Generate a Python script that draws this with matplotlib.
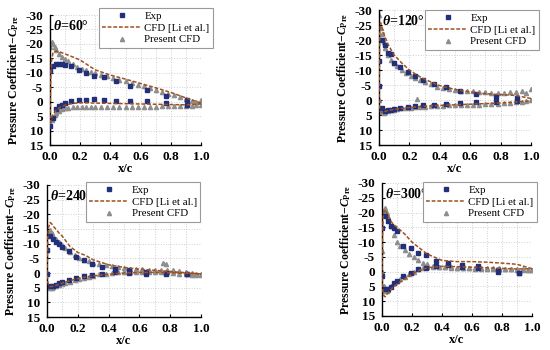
import numpy as np
import matplotlib
matplotlib.use("Agg")
import matplotlib.pyplot as plt

plt.rcParams['font.family'] = ['Liberation Serif', 'DejaVu Serif']
plt.rcParams['font.weight'] = 'bold'
plt.rcParams['mathtext.fontset'] = 'custom'
plt.rcParams['mathtext.rm'] = 'Liberation Serif:bold'
plt.rcParams['mathtext.it'] = 'Liberation Serif:italic:bold'
plt.rcParams['mathtext.bf'] = 'Liberation Serif:bold'
plt.rcParams['axes.unicode_minus'] = False

# experiment stations (x/c)
exp_x = [0.0, 0.02, 0.04, 0.06, 0.08, 0.1, 0.14, 0.19, 0.24, 0.29, 0.36, 0.44, 0.53, 0.64, 0.77, 0.91]
# Li et al. CFD line stations
li_x = [0.0, 0.005, 0.01, 0.02, 0.03, 0.04, 0.06, 0.08, 0.1, 0.15, 0.2, 0.25, 0.3, 0.4, 0.5, 0.6, 0.7, 0.8, 0.9, 1.0]
# present CFD stations
cfd_x = [0.0, 0.01, 0.02, 0.03, 0.04, 0.06, 0.08, 0.1, 0.12, 0.15, 0.18, 0.21, 0.24, 0.27, 0.3, 0.34, 0.38,
         0.42, 0.46, 0.5, 0.54, 0.58, 0.62, 0.66, 0.7, 0.74, 0.78, 0.82, 0.86, 0.9, 0.94, 0.97, 1.0]

# theta = 60
exp60_up = [-10.5, -12.5, -13.0, -13.0, -13.0, -12.8, -12.3, -11.0, -10.0, -9.0, -8.5, -7.0, -5.5, -4.0, -2.0, -0.5]
exp60_lo = [8.5, 5.5, 2.5, 1.5, 1.0, 0.3, -0.3, -0.5, -0.5, -0.8, -0.5, -0.4, -0.2, -0.2, 0.3, 1.0]
li60_up = [8.0, -8.0, -14.0, -17.0, -17.4, -17.5, -17.3, -16.9, -16.5, -15.5, -14.4, -12.7, -11.0, -9.2, -7.8,
           -6.3, -4.8, -3.2, -1.3, 0.5]
li60_lo = [8.0, 6.5, 5.5, 4.5, 3.7, 3.0, 2.2, 1.6, 1.2, 0.6, 0.4, 0.4, 0.5, 0.6, 0.7, 0.8, 0.9, 1.0, 1.1, 0.8]
cfd60_up = [-19.0, -20.5, -20.0, -19.0, -18.0, -16.5, -15.5, -14.8, -14.0, -13.0, -12.0, -11.3, -10.8, -10.3,
            -9.8, -9.3, -8.8, -8.2, -7.6, -7.0, -6.5, -5.9, -5.3, -4.7, -4.1, -3.5, -2.8, -2.2, -1.6, -1.0,
            -0.4, 0.2, -0.5]
cfd60_lo = [8.0, 6.5, 5.5, 4.5, 4.0, 3.2, 2.7, 2.3, 2.1, 1.9, 1.8, 1.7, 1.7, 1.7, 1.7, 1.7, 1.7, 1.7, 1.7,
            1.7, 1.7, 1.7, 1.7, 1.7, 1.7, 1.6, 1.6, 1.6, 1.5, 1.5, 1.4, 1.3, 1.0]
extra60_x = []
extra60_y = []

# theta = 120
exp120_up = [-13.0, -20.0, -18.3, -15.8, -15.3, -12.5, -11.0, -9.5, -8.0, -6.7, -5.3, -4.2, -3.1, -1.9, -0.9, -0.8]
exp120_lo = [-4.7, 2.5, 3.5, 3.3, 3.2, 3.0, 2.7, 2.3, 2.0, 1.8, 1.5, 1.3, 1.0, 0.8, 0.5, 0.3]
li120_up = [0.0, -22.0, -25.8, -24.0, -22.5, -21.0, -18.5, -16.7, -15.0, -12.3, -10.0, -8.3, -6.9, -4.8, -3.5,
            -2.7, -2.1, -1.8, -1.5, -0.5]
li120_lo = [0.0, 3.0, 4.0, 4.2, 4.0, 3.8, 3.5, 3.3, 3.1, 2.8, 2.5, 2.3, 2.1, 1.8, 1.6, 1.4, 1.2, 1.0, 0.7, 0.3]
cfd120_up = [-28.5, -24.0, -22.0, -19.5, -17.5, -15.0, -13.5, -12.3, -11.3, -10.0, -9.0, -8.0, -7.3, -6.6,
             -6.0, -5.2, -4.5, -4.0, -3.6, -3.3, -3.1, -3.0, -2.9, -2.7, -2.6, -2.5, -2.5, -2.5, -2.6, -2.8,
             -2.9, -2.5, -3.8]
cfd120_lo = [0.0, 3.0, 4.0, 4.2, 4.0, 3.7, 3.4, 3.2, 3.0, 2.8, 2.6, 2.5, 2.4, 2.3, 2.2, 2.1, 2.0, 1.9, 1.8,
             1.7, 1.7, 1.6, 1.5, 1.5, 1.4, 1.3, 1.2, 1.1, 1.0, 0.8, 0.6, 0.4, 0.0]
extra120_x = [0.25]
extra120_y = [-0.2]

# theta = 240
exp240_up = [-8.0, -12.5, -11.5, -10.5, -10.0, -9.0, -7.5, -5.5, -4.3, -3.2, -2.2, -1.5, -1.0, -0.5, 0.0, 0.3]
exp240_lo = [0.2, 4.6, 4.5, 4.0, 3.5, 3.0, 2.3, 1.6, 1.1, 0.8, 0.3, -0.5, 0.0, 0.2, 0.5, 0.5]
li240_up = [0.0, -12.0, -15.5, -17.2, -16.8, -16.0, -14.8, -13.5, -12.5, -9.0, -7.0, -6.0, -4.5, -2.8, -1.9,
            -1.3, -0.9, -0.5, -0.1, 0.3]
li240_lo = [0.0, 3.0, 4.0, 4.6, 4.6, 4.5, 4.2, 3.8, 3.4, 2.6, 1.9, 1.4, 1.0, 0.4, 0.0, -0.2, -0.2, -0.1, 0.1, 0.3]
cfd240_up = [-8.0, -13.5, -14.5, -13.5, -12.5, -11.5, -10.5, -9.5, -8.5, -7.0, -6.0, -5.2, -4.5, -4.0, -3.5,
             -3.0, -2.6, -2.3, -2.0, -1.8, -1.5, -1.3, -1.2, -1.1, -1.0, -1.0, -0.9, -0.9, -0.6, -0.3, 0.0,
             0.2, 0.4]
cfd240_lo = [0.0, 4.5, 5.0, 5.0, 4.8, 4.5, 4.2, 3.8, 3.5, 3.0, 2.5, 2.0, 1.6, 1.2, 0.9, 0.5, 0.2, 0.0, -0.2,
             -0.3, -0.4, -0.5, -0.5, -0.5, -0.4, -0.3, -0.2, 0.0, 0.2, 0.4, 0.6, 0.7, 0.8]
extra240_x = [0.75, 0.77]
extra240_y = [-3.3, -3.1]

# theta = 300
exp300_up = [-14.7, -18.7, -17.0, -15.5, -14.7, -13.8, -8.8, -7.9, -6.4, -5.6, -3.7, -2.8, -2.3, -2.0, 0.2, 0.5]
exp300_lo = [1.5, 6.0, 5.7, 5.1, 4.0, 3.0, 1.5, 0.3, -0.8, -1.4, -2.0, -2.3, -1.5, -1.2, -0.5, 0.3]
li300_up = [0.0, -15.0, -20.0, -21.0, -20.0, -19.0, -17.0, -15.8, -15.0, -12.8, -10.0, -8.0, -6.0, -3.8, -3.4,
            -3.4, -3.2, -2.9, -2.5, -1.0]
li300_lo = [0.0, 6.0, 8.0, 8.5, 7.8, 7.2, 6.0, 5.0, 4.2, 2.5, 0.8, -0.5, -1.3, -1.8, -1.7, -1.5, -1.3, -1.1,
            -0.9, -1.0]
cfd300_up = [-7.0, -20.5, -21.5, -20.0, -18.5, -15.5, -12.5, -10.0, -8.8, -7.3, -6.0, -4.8, -3.8, -3.0, -2.5,
             -2.0, -1.7, -1.5, -1.3, -1.2, -1.1, -1.1, -1.0, -1.0, -1.0, -0.9, -0.9, -0.8, -0.8, -0.7, -0.6,
             -0.5, -0.5]
cfd300_lo = [0.0, 5.0, 6.5, 6.5, 6.2, 5.0, 3.9, 3.2, 2.5, 1.7, 0.8, 0.0, -0.8, -1.2, -1.5, -1.6, -1.6, -1.5,
             -1.5, -1.4, -1.4, -1.3, -1.3, -1.2, -1.2, -1.1, -1.1, -1.0, -1.0, -0.9, -0.8, -0.7, -0.5]
extra300_x = []
extra300_y = []

titles = ['60', '120', '240', '300']

EXP_C = '#22307a'
LI_C = '#a0501e'
CFD_C = '#8e8e8e'

W, H = 550.0, 350.0
# axes boxes in pixels: left, top, right, bottom
boxes = [(50, 15, 201, 145), (379, 10, 531, 145), (47, 185, 201, 317), (382, 183, 532, 316)]
# legend upper-left corners in pixels
legpos = [(99, 8), (425, 10), (86, 182), (423, 182)]


def draw_panel(ax, d, title):
    exp_up, exp_lo, li_up, li_lo, cfd_up, cfd_lo, ex_x, ex_y = d
    ax.grid(True, color='#cfcfcf', linestyle=':', linewidth=0.7)
    ax.set_axisbelow(True)
    # Li et al. as one closed line round the leading edge
    lx = li_x[::-1] + li_x
    ly = li_up[::-1] + li_lo
    ax.plot(exp_x, exp_up, 's', color=EXP_C, ms=2.8, label='Exp', zorder=3)
    ax.plot(lx, ly, '--', color=LI_C, lw=1.1, dashes=(2.5, 1.2), label='CFD [Li et al.]', zorder=4)
    ax.plot(cfd_x + cfd_x + ex_x, cfd_up + cfd_lo + ex_y, '^', color=CFD_C, ms=3.0,
            label='Present CFD', zorder=2)
    ax.plot(exp_x, exp_lo, 's', color=EXP_C, ms=2.8, zorder=3)

    ax.set_xlim(0, 1.0)
    ax.set_ylim(15, -30)
    ax.set_xticks(np.arange(0, 1.01, 0.2))
    ax.set_xticks(np.arange(0, 1.01, 0.1), minor=True)
    ax.set_yticks(np.arange(-30, 16, 5))
    ax.xaxis.set_major_formatter(matplotlib.ticker.FormatStrFormatter('%.1f'))
    ax.grid(True, which='minor', axis='x', color='#cfcfcf', linestyle=':', linewidth=0.7)
    ax.tick_params(which='both', direction='in', length=2.5, width=0.8, labelsize=9.5)
    ax.tick_params(axis='y', pad=5)
    ax.tick_params(axis='x', pad=4)
    ax.tick_params(which='minor', length=0)
    for lab in ax.get_xticklabels() + ax.get_yticklabels():
        lab.set_fontweight('bold')
    for s in ['top', 'right']:
        ax.spines[s].set_visible(False)
    for s in ['left', 'bottom']:
        ax.spines[s].set_linewidth(1.0)
    ax.set_xlabel('x/c', fontsize=9, fontweight='bold', labelpad=0)
    ax.set_ylabel(r'Pressure Coefficient$-\mathit{C}_{\mathrm{Pre}}$', fontsize=8.5, fontweight='bold',
                  labelpad=3)
    ax.text(0.02, 0.97, r'$\theta$=' + title + '°', transform=ax.transAxes, ha='left', va='top',
            fontsize=10, fontweight='bold')


fig = plt.figure(figsize=(5.5, 3.5), dpi=100)
data = [
    (exp60_up, exp60_lo, li60_up, li60_lo, cfd60_up, cfd60_lo, extra60_x, extra60_y),
    (exp120_up, exp120_lo, li120_up, li120_lo, cfd120_up, cfd120_lo, extra120_x, extra120_y),
    (exp240_up, exp240_lo, li240_up, li240_lo, cfd240_up, cfd240_lo, extra240_x, extra240_y),
    (exp300_up, exp300_lo, li300_up, li300_lo, cfd300_up, cfd300_lo, extra300_x, extra300_y),
]
for i in range(4):
    l, t, r, b = boxes[i]
    ax = fig.add_axes([l / W, 1 - b / H, (r - l) / W, (b - t) / H])
    draw_panel(ax, data[i], titles[i])
    lx0, ly0 = legpos[i]
    leg = ax.legend(loc='upper left', bbox_to_anchor=(lx0 / W, 1 - ly0 / H), bbox_transform=fig.transFigure,
                    borderaxespad=0, frameon=True, fancybox=False, framealpha=1,
                    edgecolor='#9a9a9a', handlelength=3.6, labelspacing=0.2, borderpad=0.3,
                    handletextpad=0.3, prop={'weight': 'normal', 'size': 7.8})
    leg.get_frame().set_linewidth(0.8)
    leg.set_zorder(5)

fig.savefig('out.png', dpi=100)
